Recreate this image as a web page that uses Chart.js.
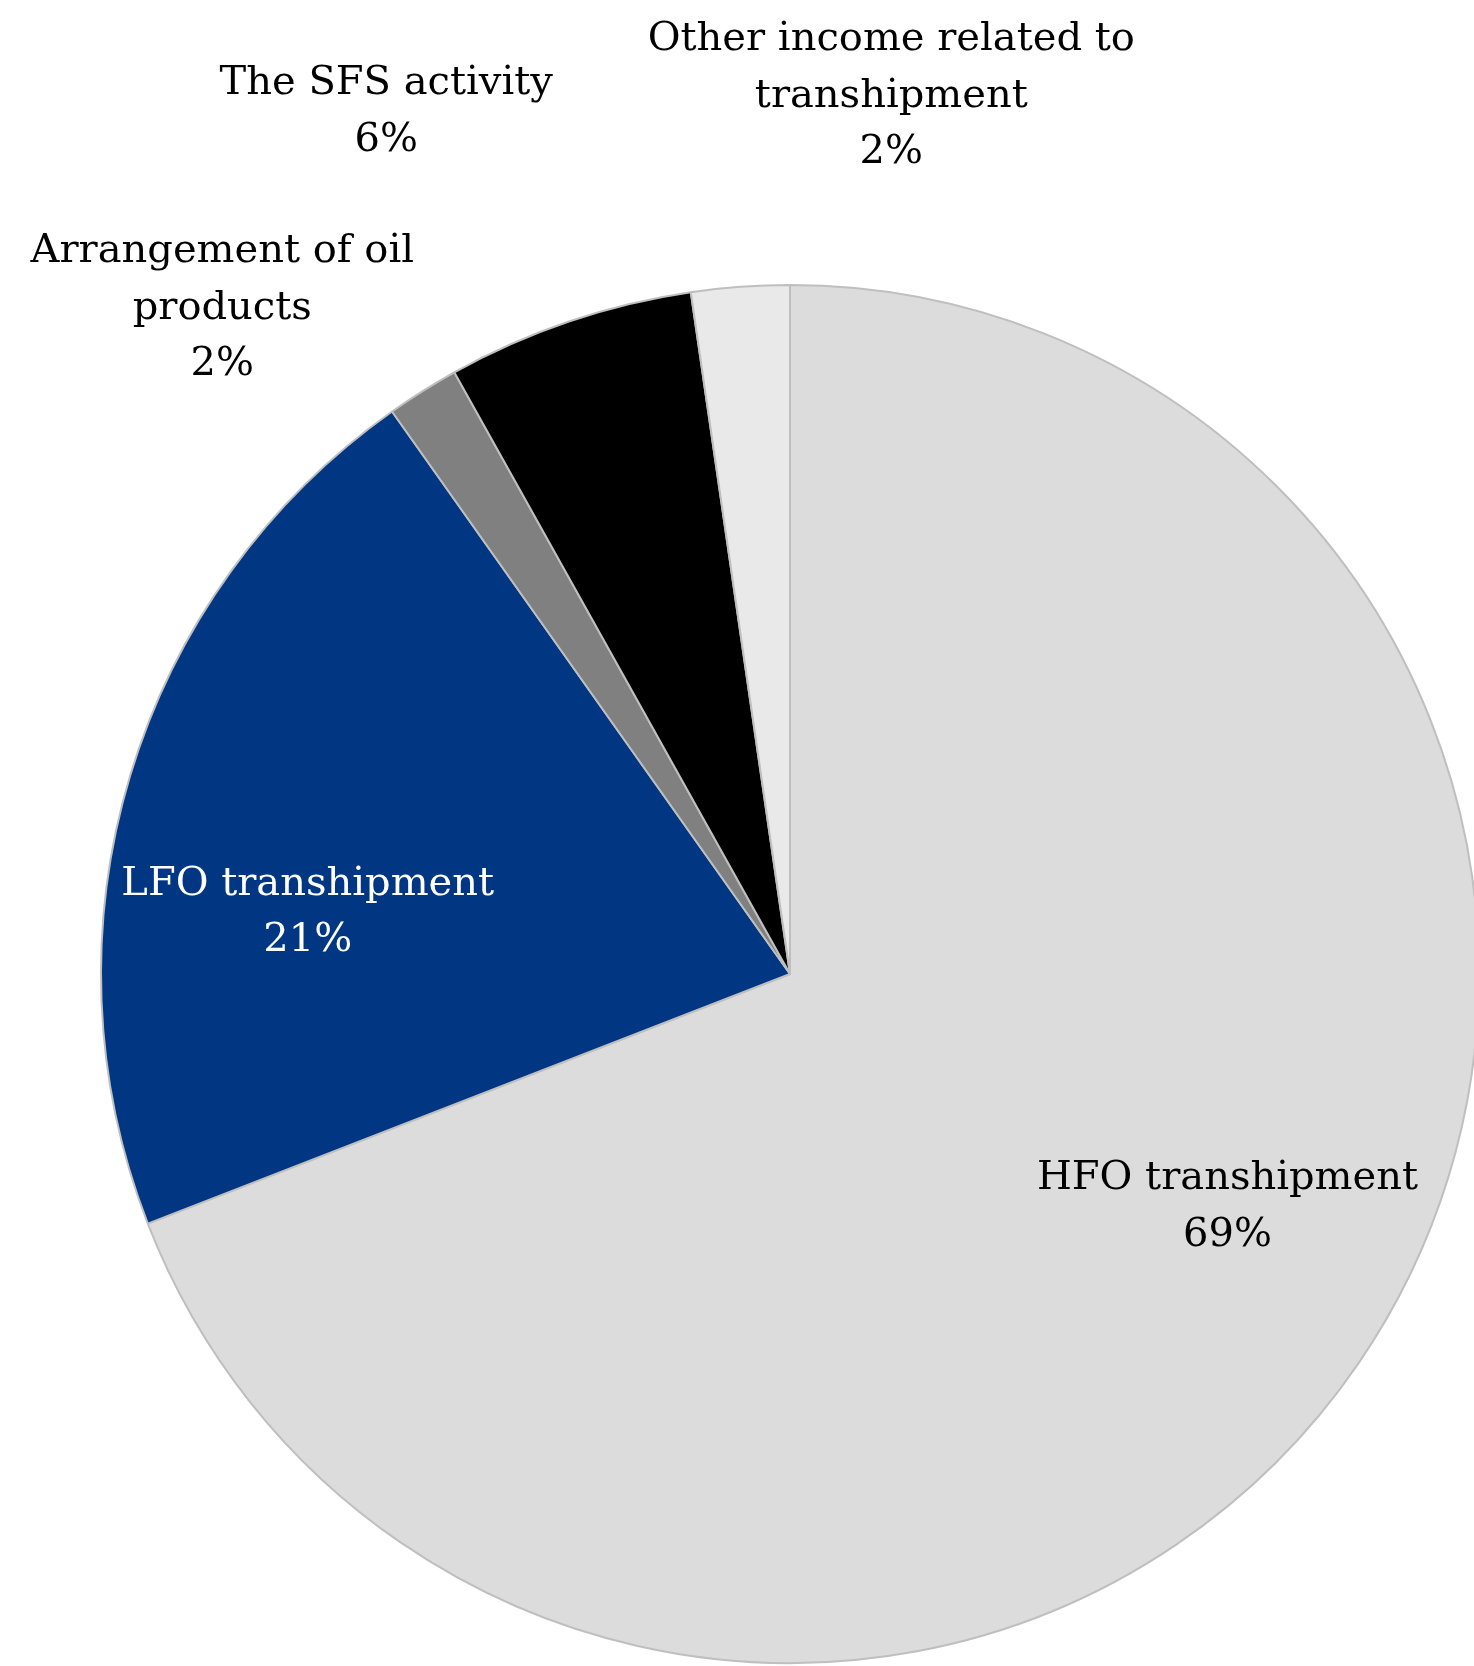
<!DOCTYPE html>
<html>
<head>
<meta charset="utf-8">
<script src="https://cdn.jsdelivr.net/npm/chart.js@4/dist/chart.umd.min.js"></script>
<style>
  html, body { margin: 0; padding: 0; background: #fff; overflow: hidden; }
  #grafico { display: block; }
</style>
</head>
<body>
<canvas id="grafico" width="1500" height="1666"></canvas>
<script>
// dados (ordem horária a partir do topo)
const categorias = [
  ["HFO transhipment"],
  ["LFO transhipment"],
  ["Arrangement of oil", "products"],
  ["The SFS activity"],
  ["Other income related to", "transhipment"]
];
const valores = [69.1, 21.1, 1.7, 5.8, 2.3];

const cores = ["#dcdcdc", "#003682", "#808080", "#000000", "#e9e9e9"];
const corTexto = ["#000", "#fff", "#000", "#000", "#000"];
// posição do rótulo relativa ao centro, em unidades de raio
const posRotulos = [[0.635, 0.338], [-0.700, -0.089], [-0.824, -0.966], [-0.586, -1.251], [0.147, -1.274]];

const total = valores.reduce((a, b) => a + b, 0);

const rotulos = {
  id: "rotulos",
  afterDatasetsDraw(chart) {
    const ctx = chart.ctx;
    const meta = chart.getDatasetMeta(0);
    ctx.save();
    ctx.font = "40px 'DejaVu Serif'";
    ctx.textAlign = "center";
    ctx.textBaseline = "middle";
    meta.data.forEach((arc, i) => {
      const r = arc.outerRadius;
      const x = arc.x + posRotulos[i][0] * r;
      const y = arc.y + posRotulos[i][1] * r;
      const linhas = categorias[i].concat([Math.round(valores[i] / total * 100) + "%"]);
      ctx.fillStyle = corTexto[i];
      linhas.forEach((l, k) => ctx.fillText(l, x, y + (k - (linhas.length - 1) / 2) * 56.5));
    });
    ctx.restore();
  }
};

new Chart(document.getElementById("grafico"), {
  type: "pie",
  data: {
    labels: categorias,
    datasets: [{
      data: valores,
      backgroundColor: cores,
      borderColor: "#bfbfbf",
      borderWidth: 2
    }]
  },
  options: {
    responsive: false,
    animation: false,
    layout: { padding: { top: 284, left: 100, right: 20, bottom: 2 } },
    plugins: {
      legend: { display: false },
      tooltip: { enabled: false }
    }
  },
  plugins: [rotulos]
});
</script>
</body>
</html>
